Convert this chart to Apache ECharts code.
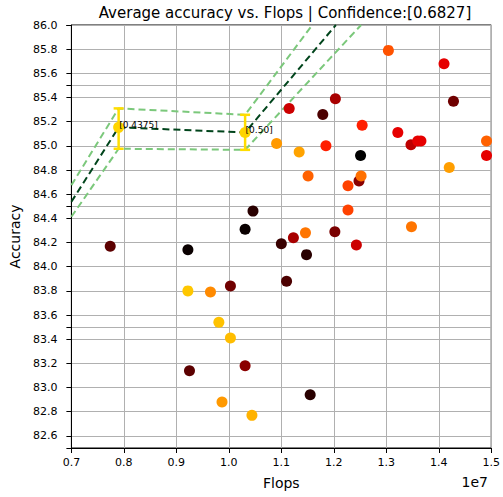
<!DOCTYPE html>
<html>
<head>
<meta charset="utf-8">
<script src="https://cdn.jsdelivr.net/npm/echarts@6/dist/echarts.min.js"></script>
<style>
  html, body { margin: 0; padding: 0; background: #fff; }
  #chart { width: 503px; height: 497px; }
</style>
</head>
<body>
<div id="chart"></div>
<script>
// scatter points: flops (x 1e7), accuracy, colour value (0 = black, 1 = yellow)
const flops = [0.774, 0.922, 0.922, 0.965, 0.981, 1.003, 1.003, 1.031, 0.925, 0.987,
               1.044, 1.031, 1.046, 1.091, 1.100, 1.110, 1.115, 1.123, 1.134, 1.146,
               1.148, 1.151, 1.155, 1.179, 1.185, 1.203, 1.202, 1.227, 1.227, 1.243,
               1.248, 1.251, 1.252, 1.254, 1.304, 1.322, 1.347, 1.348, 1.360, 1.366,
               1.410, 1.420, 1.428, 1.491, 1.491];
const accuracy = [84.17, 84.14, 83.80, 83.79, 83.54, 83.84, 83.41, 83.18, 83.14, 82.88,
                  82.77, 84.31, 84.46, 85.02, 84.19, 83.88, 85.31, 84.24, 84.95, 84.28,
                  84.10, 84.75, 82.94, 85.26, 85.00, 85.39, 84.29, 84.67, 84.47, 84.18,
                  84.71, 84.92, 84.75, 85.17, 85.79, 85.11, 85.01, 84.33, 85.04, 85.04,
                  85.68, 84.82, 85.37, 85.04, 84.92];
const heat = [0.18, 0.02, 0.89, 0.77, 0.88, 0.22, 0.87, 0.27, 0.18, 0.80,
              0.85, 0.02, 0.08, 0.80, 0.11, 0.15, 0.40, 0.33, 0.82, 0.73,
              0.08, 0.69, 0.08, 0.15, 0.56, 0.33, 0.24, 0.63, 0.63, 0.40,
              0.27, 0.0, 0.72, 0.56, 0.66, 0.45, 0.37, 0.73, 0.45, 0.45,
              0.45, 0.81, 0.22, 0.69, 0.45];

// fitted points with error bars
const fitFlops = [0.790, 1.031];
const fitMean = [85.153, 85.111];
const fitLow = [84.976, 84.967];
const fitHigh = [85.310, 85.257];
const fitLabels = ['[0.4375]', '[0.50]'];

// trend lines (clipped at plot edges)
const lineFlops = [0.7, 0.790, 1.031];
const meanLine = [84.537, 85.153, 85.111];
const upperLine = [84.675, 85.310, 85.257];
const lowerLine = [84.413, 84.976, 84.967];
const lineEnd = { mean: 1.204, upper: 1.159, lower: 1.252 }; // x where lines leave the top at 86.0

const xTicks = { min: 0.7, max: 1.5, step: 0.1 };
const yTicks = { min: 82.5, max: 86.0, step: 0.2 };

const chart = echarts.init(document.getElementById('chart'), null, { renderer: 'svg' });
const font = 'DejaVu Sans';

function lineData(ys, endX) {
    const d = lineFlops.map((x, i) => [x, ys[i]]);
    d.push([endX, yTicks.max]);
    return d;
}

const axisCommon = {
    axisLine: { show: true, lineStyle: { color: '#000', width: 1 } },
    axisTick: { show: true, inside: false, length: 5, lineStyle: { color: '#000', width: 1 } },
    splitLine: { show: true, lineStyle: { color: '#b0b0b0', width: 1 } }
};

const option = {
    animation: false,
    title: [
        {
            text: 'Average accuracy vs. Flops | Confidence:[0.6827]',
            left: 280, top: 0, textAlign: 'center',
            textStyle: { fontFamily: font, fontSize: 15, fontWeight: 'normal', color: '#000' }
        },
        {
            text: '1e7', right: 10, top: 470,
            textStyle: { fontFamily: font, fontSize: 14, fontWeight: 'normal', color: '#000' }
        }
    ],
    grid: { left: 68, right: 10, top: 25, bottom: 49, show: true, borderColor: '#000', borderWidth: 1 },
    visualMap: {
        show: false, seriesIndex: 0, dimension: 2, min: 0, max: 1,
        inRange: { color: ['#000000', '#550000', '#aa0000', '#ff0000', '#ff5500', '#ffaa00', '#ffff00'] }
    },
    xAxis: Object.assign({
        type: 'value', min: xTicks.min, max: xTicks.max, interval: xTicks.step,
        name: 'Flops', nameLocation: 'middle', nameGap: 28,
        nameTextStyle: { fontFamily: font, fontSize: 14, color: '#000' },
        axisLabel: { fontFamily: font, fontSize: 11, color: '#000', margin: 9,
                     formatter: v => v.toFixed(1) }
    }, axisCommon),
    yAxis: [
        Object.assign({
            type: 'value', position: 'left', min: yTicks.min, max: yTicks.max,
            minInterval: yTicks.step, maxInterval: yTicks.step,
            name: 'Accuracy', nameLocation: 'middle', nameGap: 42,
            nameTextStyle: { fontFamily: font, fontSize: 14, color: '#000' },
            axisLabel: { fontFamily: font, fontSize: 11, color: '#000', margin: 14,
                         showMinLabel: false, formatter: v => v.toFixed(1) }
        }, axisCommon),
        Object.assign({}, axisCommon, {
            type: 'value', position: 'left', min: yTicks.min, max: yTicks.max, interval: 1,
            axisLine: { show: false },
            axisLabel: { show: false }
        })
    ],
    series: [
        {
            type: 'scatter',
            symbolSize: 11,
            z: 5,
            itemStyle: { opacity: 1 },
            data: flops.map((x, i) => [x, accuracy[i], heat[i]])
        },
        {
            type: 'line', symbol: 'none', z: 3,
            lineStyle: { color: '#7bc87b', width: 2, type: [7, 4] },
            data: lineData(upperLine, lineEnd.upper)
        },
        {
            type: 'line', symbol: 'none', z: 3,
            lineStyle: { color: '#7bc87b', width: 2, type: [7, 4] },
            data: lineData(lowerLine, lineEnd.lower)
        },
        {
            type: 'line', symbol: 'none', z: 4,
            lineStyle: { color: '#00441b', width: 2, type: [7, 4] },
            data: lineData(meanLine, lineEnd.mean)
        },
        {
            type: 'custom', z: 6,
            data: fitFlops.map((x, i) => [x, fitLow[i], fitHigh[i]]),
            renderItem: function (params, api) {
                const top = api.coord([api.value(0), api.value(2)]);
                const bot = api.coord([api.value(0), api.value(1)]);
                const w = 5;
                const st = { stroke: '#ffdd00', lineWidth: 2.5 };
                return {
                    type: 'group',
                    children: [
                        { type: 'line', shape: { x1: top[0], y1: top[1], x2: bot[0], y2: bot[1] }, style: st },
                        { type: 'line', shape: { x1: top[0] - w, y1: top[1], x2: top[0] + w, y2: top[1] }, style: st },
                        { type: 'line', shape: { x1: bot[0] - w, y1: bot[1], x2: bot[0] + w, y2: bot[1] }, style: st }
                    ]
                };
            }
        },
        {
            type: 'scatter', symbolSize: 11, z: 7,
            itemStyle: { color: '#ffd400', opacity: 1 },
            label: {
                show: true, position: [6, 3], align: 'left', verticalAlign: 'middle',
                fontFamily: font, fontSize: 9, color: '#000',
                formatter: p => fitLabels[p.dataIndex]
            },
            data: fitFlops.map((x, i) => [x, fitMean[i]])
        }
    ]
};
chart.setOption(option);
</script>
</body>
</html>
